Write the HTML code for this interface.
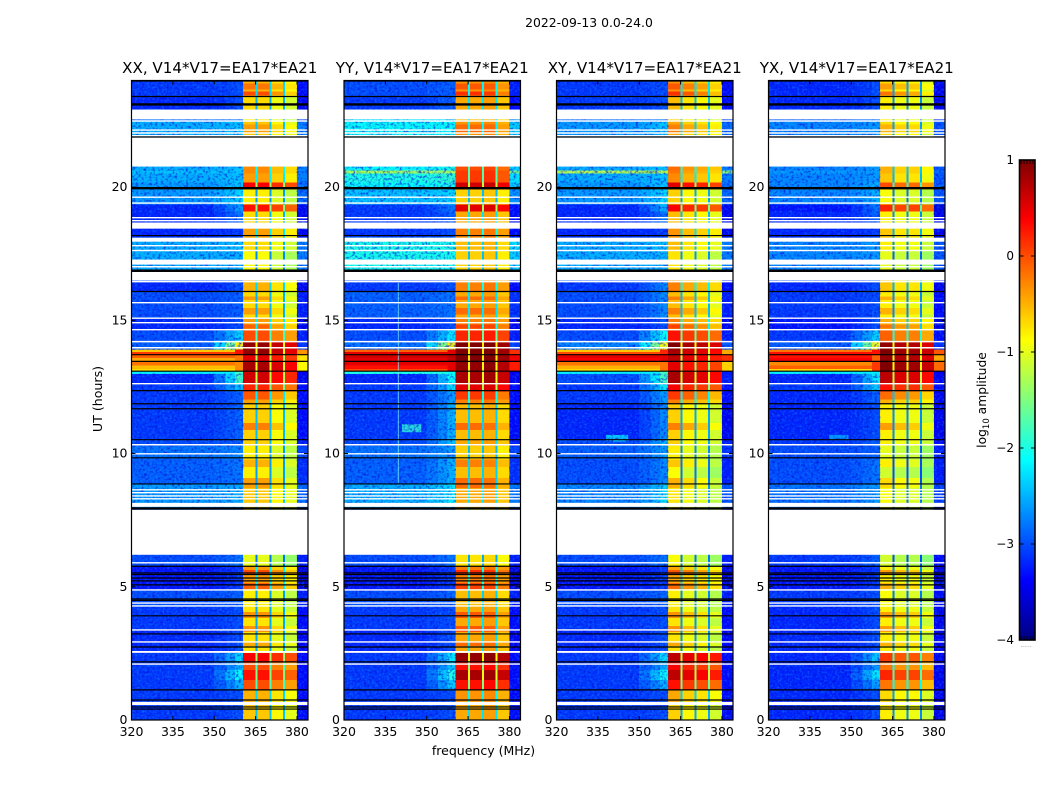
<!DOCTYPE html>
<html><head><meta charset="utf-8"><title>2022-09-13 waterfall</title>
<style>
html,body{margin:0;padding:0;background:#fff}
svg{display:block}
text{font-family:"DejaVu Sans","Liberation Sans",sans-serif;fill:#000}
</style></head>
<body>
<svg id="fig" width="1050" height="800" viewBox="0 0 1050 800" xmlns="http://www.w3.org/2000/svg">
<defs>
<filter id="speckleDark" x="0" y="0" width="100%" height="100%" color-interpolation-filters="sRGB">
<feTurbulence type="fractalNoise" baseFrequency="0.36 0.42" numOctaves="2" seed="4"/>
<feColorMatrix values="0 0 0 0 0  0 0 0 0 0.05  0 0 0 0 0.85  3.2 0 0 0 -1.5"/>
</filter>
<filter id="speckleLight" x="0" y="0" width="100%" height="100%" color-interpolation-filters="sRGB">
<feTurbulence type="fractalNoise" baseFrequency="0.4 0.46" numOctaves="2" seed="11"/>
<feColorMatrix values="0 0 0 0 0.1  0 0 0 0 0.65  0 0 0 0 1  0 3.2 0 0 -1.5"/>
</filter>
</defs>
<text x="589" y="27" font-size="12.4" text-anchor="middle">2022-09-13 0.0-24.0</text>
<text x="483.5" y="755" font-size="12.5" text-anchor="middle">frequency (MHz)</text>
<text x="0" y="0" font-size="12.6" text-anchor="middle" transform="translate(102 399) rotate(-90)">UT (hours)</text>
<text x="0" y="0" font-size="12.3" text-anchor="middle" transform="translate(986 400) rotate(-90)">log<tspan font-size="8.5" dy="3">10</tspan><tspan dy="-3"> amplitude</tspan></text>
<g id="panels"></g>
<g id="cbar"></g>
</svg>
<script>
// ---- chart data (log10 amplitude) ----
const panelTitles = ["XX, V14*V17=EA17*EA21","YY, V14*V17=EA17*EA21","XY, V14*V17=EA17*EA21","YX, V14*V17=EA17*EA21"];
const xTicks = [320,335,350,365,380];
const yTicks = [0,5,10,15,20];
const cbarTicks = [1,0,-1,-2,-3,-4];
const freqEdges = [320,350,354,357.5,360.5,365,365.7,370,370.7,375,375.7,380,384];
const rampWeights = [0.3,0.65,1];

const segTop = [24.00,23.40,22.91,22.50,21.86,20.77,20.62,20.51,20.17,19.91,19.34,
19.08,18.44,18.10,17.58,16.83,16.41,16.08,15.10,14.61,14.20,13.90,
13.71,13.45,13.07,12.62,12.32,11.87,10.52,10.29,9.80,8.86,7.96,
6.20,5.78,4.88,4.24,3.38,2.52,2.18,1.88,1.50,1.13,0.56];
const segBottomEnd = 0;

const bgXX = [-3.1,-3.2,-2.8,-2.5,-2.5,-2.5,-2.4,-2.5,-2.6,-2.6,-3.2,
-3.2,-3.2,-2.5,-2.5,-3.0,-3.2,-3.0,-3.2,-3.0,-2.9,-0.1,
-0.5,-0.6,-3.2,-3.1,-3.1,-3.1,-3.0,-2.8,-2.9,-2.6,-3.0,
-3.0,-3.3,-3.0,-3.1,-3.2,-3.1,-3.1,-3.1,-3.1,-3.1,-3.1];
const rampXX = [-3.0,-3.0,-2.8,-2.4,-2.4,-2.4,-2.4,-2.4,-2.4,-2.3,-2.6,
-2.8,-3.1,-2.4,-2.5,-3.0,-3.0,-2.9,-3.0,-2.3,-0.8,0.3,
-0.2,-0.3,-1.8,-2.4,-2.9,-2.9,-2.9,-2.7,-2.8,-2.5,-3.0,
-2.8,-3.1,-2.9,-3.0,-3.0,-2.3,-2.5,-2.1,-2.5,-3.0,-3.0];
const winXX = [-0.5,-0.7,-0.8,-0.6,-0.6,-0.3,-0.3,-0.4,0.4,-0.8,0.3,
-0.7,-0.4,-0.7,-0.9,-0.5,-0.5,-0.7,-0.4,0.0,0.9,0.9,
0.5,0.8,0.6,0.2,-0.4,-0.65,-0.65,-0.8,-0.8,-0.6,-0.9,
-1.0,-0.4,-0.8,-0.75,-0.75,0.4,0.0,0.3,0.0,-0.5,-0.6];

const bgYY = [-3.0,-3.1,-2.2,-2.1,-2.1,-2.1,-1.3,-2.0,-2.1,-2.4,-3.1,
-3.1,-3.1,-2.0,-2.1,-3.0,-3.1,-2.9,-3.2,-3.0,-2.8,0.4,
0.7,0.5,-3.2,-3.1,-3.1,-3.1,-3.0,-2.8,-2.9,-2.5,-3.0,
-3.0,-3.3,-3.0,-3.1,-3.2,-3.1,-3.1,-3.1,-3.1,-3.1,-3.1];
const rampYY = [-2.9,-2.9,-2.2,-2.1,-2.1,-2.0,-1.3,-1.9,-2.0,-2.3,-2.8,
-2.9,-3.0,-2.0,-2.1,-3.0,-3.0,-2.8,-3.0,-2.2,-0.8,0.5,
0.7,0.5,-2.1,-2.3,-2.6,-2.5,-2.4,-2.6,-2.5,-2.2,-3.0,
-2.8,-3.1,-2.9,-3.0,-3.0,-2.2,-2.4,-2.0,-2.4,-3.0,-3.0];
const winYY = [-0.35,-0.45,-0.55,-0.35,-0.35,0.0,0.1,0.1,0.6,-0.65,0.5,
-0.45,-0.25,-0.55,-0.65,-0.35,-0.25,-0.45,-0.25,0.2,1.0,1.0,
1.0,0.9,0.8,0.5,-0.25,-0.55,-0.45,-0.65,-0.55,-0.45,-0.85,
-0.75,-0.25,-0.55,-0.45,-0.45,0.9,0.3,0.8,0.3,-0.35,-0.45];

const bgXY = [-3.1,-3.1,-2.8,-2.6,-2.6,-2.5,-1.2,-2.5,-2.6,-2.6,-3.2,
-3.2,-3.2,-2.5,-2.5,-3.0,-3.1,-3.0,-3.2,-3.0,-2.7,-0.2,
0.4,-0.4,-3.0,-3.1,-3.1,-3.2,-3.0,-2.9,-3.0,-2.7,-3.0,
-3.0,-3.3,-3.0,-3.1,-3.2,-3.1,-3.1,-3.1,-3.1,-3.1,-3.1];
const rampXY = [-3.0,-3.0,-2.8,-2.4,-2.4,-2.4,-1.2,-2.4,-2.4,-2.3,-2.5,
-2.8,-3.1,-2.4,-2.5,-3.0,-2.7,-2.7,-3.0,-2.1,-0.9,0.2,
0.5,-0.2,-1.8,-2.2,-2.6,-2.7,-2.5,-2.6,-2.7,-2.3,-3.0,
-2.8,-3.1,-2.9,-3.0,-3.0,-2.3,-2.5,-2.1,-2.5,-3.0,-3.0];
const winXY = [-0.45,-0.65,-0.75,-0.55,-0.55,-0.25,-0.3,-0.4,0.4,-0.75,0.3,
-0.65,-0.45,-0.65,-0.85,-0.45,-0.35,-0.65,-0.35,0.2,0.9,0.7,
0.6,0.4,0.7,0.3,-0.35,-0.75,-0.75,-0.9,-1.0,-0.85,-1.0,
-1.0,-0.55,-0.9,-0.85,-0.85,0.6,0.3,0.6,0.2,-0.55,-0.75];

const bgYX = [-3.2,-3.2,-2.9,-2.7,-2.7,-2.7,-2.6,-2.7,-2.7,-2.7,-3.3,
-3.2,-3.2,-2.7,-2.7,-3.0,-3.2,-3.1,-3.3,-3.1,-2.9,0.2,
-0.2,0.1,-3.2,-3.1,-3.2,-3.2,-3.1,-3.0,-3.0,-2.8,-3.0,
-3.1,-3.3,-3.1,-3.2,-3.2,-3.2,-3.2,-3.2,-3.2,-3.2,-3.2];
const rampYX = [-3.0,-3.0,-2.8,-2.6,-2.6,-2.6,-2.6,-2.6,-2.5,-2.5,-2.8,
-2.9,-3.1,-2.6,-2.6,-3.0,-3.0,-3.0,-3.0,-2.3,-0.9,0.3,
-0.1,0.1,-2.2,-2.4,-2.9,-3.0,-2.9,-2.9,-2.8,-2.6,-3.0,
-2.9,-3.1,-3.0,-3.0,-3.0,-2.4,-2.6,-2.2,-2.6,-3.0,-3.0];
const winYX = [-0.8,-0.9,-0.9,-0.8,-0.8,-0.6,-0.6,-0.7,-0.1,-1.0,0.1,
-0.9,-0.7,-0.9,-1.1,-0.7,-0.7,-0.9,-0.6,-0.2,0.8,0.9,
0.8,0.9,0.6,0.2,-0.6,-0.9,-0.9,-1.1,-1.2,-1.0,-1.2,
-1.2,-0.9,-1.0,-0.9,-0.9,0.0,-0.3,0.1,-0.3,-0.8,-0.9];

const sbGainXX = [0.0,0.0,-0.25,-0.4];
const sbGainYY = [0.0,0.0,0.05,-0.15];
const sbGainXY = [0.1,-0.1,-0.2,-0.35];
const sbGainYX = [0.1,-0.05,-0.05,-0.25];

const bandTop = [13.90,13.82,13.69,13.58,13.46,13.31,13.18,13.07];
const bandBottom = [13.82,13.69,13.58,13.46,13.31,13.18,13.07,13.00];
const bandXX = [-0.6,0.1,-0.1,-0.45,-0.2,-0.55,-0.7,-2.2];
const bandYY = [-0.1,0.5,0.6,0.5,0.5,0.3,0.0,-2.0];
const bandXY = [-0.6,0.0,0.5,0.4,-0.2,-0.5,-0.7,-2.2];
const bandYX = [-0.2,0.3,0.3,0.4,-0.3,-0.1,-0.7,-2.2];

const patchTop = [23.89,23.59,22.35,15.89,15.47,14.84,12.32,11.15,9.77,9.09,5.63,5.15,4.06,3.53,2.93];
const patchBottom = [23.66,23.44,22.05,15.77,15.21,14.69,12.02,10.89,9.50,8.71,5.48,4.92,3.83,3.31,2.78];
const patchDelta = [0.3,0.5,0.2,0.3,0.3,0.3,0.35,0.4,0.3,0.4,0.4,0.3,0.4,0.4,0.3];
const patchSbWeight = [1,1,0.8,0.5];

const whiteLines = [22.48,22.14,22.03,21.93,19.62,19.40,18.85,18.74,17.80,17.62,17.01,16.45,15.66,15.08,14.91,14.65,14.20,13.97,12.62,10.33,9.99,8.64,8.53,8.41,8.30,5.90,4.88,4.39,4.28,3.38,2.93,2.10];
const whiteBandTop = [22.91,21.86,18.67,18.10,17.28,16.83,8.15,7.89,2.59,0.68];
const whiteBandBottom = [22.54,20.77,18.44,17.95,17.09,16.49,8.00,6.20,2.52,0.56];
const blackLines = [23.98,23.40,21.88,18.18,16.08,13.71,13.46,13.09,12.36,11.87,11.68,10.52,9.84,8.86,5.77,5.52,5.46,5.33,5.22,5.07,4.54,4.49,3.91,3.23,2.74,2.18,1.13,0.75,0.49,0.41];
const blackThick = [23.10,19.96,16.86,7.94];

const rfiChannelFreqYY = [339.7];
const blobPanel = [1,1,2,3];
const blobFreqStart = [341,320,338,342];
const blobFreqEnd = [348,360,346,349];
const blobHourTop = [11.1,17.6,10.7,10.7];
const blobHourBottom = [10.8,16.9,10.45,10.5];
const blobLevel = [-1.9,-2.0,-2.2,-2.5];

const panelBg = [bgXX,bgYY,bgXY,bgYX];
const panelRamp = [rampXX,rampYY,rampXY,rampYX];
const panelWin = [winXX,winYY,winXY,winYX];
const panelGain = [sbGainXX,sbGainYY,sbGainXY,sbGainYX];
const panelBand = [bandXX,bandYY,bandXY,bandYX];

// ---- layout ----
const NS = "http://www.w3.org/2000/svg";
const panelLeft = [131.5,344,556.5,768.5];
const panelW = 176.5, plotTop = 80.5, plotBottom = 720;
const xMin = 320, xMax = 384, yMax = 24;
function X(f,p){return panelLeft[p]+(f-xMin)/(xMax-xMin)*panelW;}
function Y(h){return plotBottom-h/yMax*(plotBottom-plotTop);}
function jetCh(t,a){return Math.max(0,Math.min(1,1.5-Math.abs(4*t-a)));}
function jet(v){
  const t=Math.max(0,Math.min(1,(v+4)/5));
  return "rgb("+Math.round(255*jetCh(t,3))+","+Math.round(255*jetCh(t,2))+","+Math.round(255*jetCh(t,1))+")";
}
function mk(tag,attrs,parent){
  const e=document.createElementNS(NS,tag);
  for(const k in attrs)e.setAttribute(k,attrs[k]);
  parent.appendChild(e);
  return e;
}
function levelFor(p,s,b){
  const bg=panelBg[p][s],ramp=panelRamp[p][s],win=panelWin[p][s],gain=panelGain[p];
  if(b===0)return bg;
  if(b<=3)return bg+(ramp-bg)*rampWeights[b-1];
  if(b===11)return bg-0.25;
  if(b%2===0)return win+gain[(b-4)/2];
  return win-1.8;
}
function segAt(h){
  let s=0;
  while(s+1<segTop.length&&segTop[s+1]>=h)s++;
  return s;
}
const root=document.getElementById("panels");
panelTitles.forEach(function(title,p){
  const g=mk("g",{},root);
  
  
  const cells=mk("g",{"shape-rendering":"crispEdges"},g);
  
  
  segTop.forEach(function(top,s){
    const bottom=s+1<segTop.length?segTop[s+1]:segBottomEnd;
    for(let b=0;b<freqEdges.length-1;b++){
      const x0=X(freqEdges[b],p),x1=X(freqEdges[b+1],p),y0=Y(top),y1=Y(bottom);
      const r=mk("rect",{x:x0,y:y0,width:x1-x0+0.4,height:y1-y0+0.4,fill:jet(levelFor(p,s,b))},cells);
      
      
    }
  });
  bandTop.forEach(function(t,i){
    const x0=X(320,p),x1=X(357.5,p);
    const r=mk("rect",{x:x0,y:Y(t),width:x1-x0,height:Y(bandBottom[i])-Y(t)+0.3,fill:jet(panelBand[p][i])},cells);
    
    
  });
  patchTop.forEach(function(t,i){
    const s=segAt((t+patchBottom[i])/2);
    patchSbWeight.forEach(function(w,k){
      const b=4+2*k;
      const x0=X(freqEdges[b],p),x1=X(freqEdges[b+1],p);
      const r=mk("rect",{x:x0,y:Y(t),width:x1-x0,height:Y(patchBottom[i])-Y(t),fill:jet(levelFor(p,s,b)+patchDelta[i]*w)},cells);
      
      
    });
  });
  blobPanel.forEach(function(bp,i){
    if(bp!==p)return;
    const x0=X(blobFreqStart[i],p),x1=X(blobFreqEnd[i],p);
    const r=mk("rect",{x:x0,y:Y(blobHourTop[i]),width:x1-x0,height:Y(blobHourBottom[i])-Y(blobHourTop[i]),fill:jet(blobLevel[i]),opacity:0.8},g);
    
    
  });
  // speckle texture on the noise-dominated part of each panel
  [[24,13.9],[13.0,0]].forEach(function(rng){
    [[320,360.5],[380,384]].forEach(function(fr){
      ["speckleDark","speckleLight"].forEach(function(fid){
        const r=mk("rect",{x:X(fr[0],p),y:Y(rng[0]),width:X(fr[1],p)-X(fr[0],p),height:Y(rng[1])-Y(rng[0]),filter:"url(#"+fid+")",opacity:fid==="speckleDark"?0.7:0.35},g);
        
        
      });
    });
  });
  if(p===1){
    rfiChannelFreqYY.forEach(function(f){
      const l=mk("line",{x1:X(f,p),x2:X(f,p),y1:Y(16.4),y2:Y(8.9),stroke:"#7fe8ff","stroke-width":1,opacity:0.75},g);
      
      
    });
  }
  whiteBandTop.forEach(function(t,i){
    const r=mk("rect",{x:X(xMin,p),y:Y(t),width:panelW,height:Y(whiteBandBottom[i])-Y(t),fill:"#fff"},g);
    
    
  });
  whiteLines.forEach(function(h){
    const l=mk("line",{x1:X(xMin,p),x2:X(xMax,p),y1:Y(h),y2:Y(h),stroke:"#fff","stroke-width":1.4},g);
    
    
  });
  blackLines.forEach(function(h){
    const l=mk("line",{x1:X(xMin,p),x2:X(xMax,p),y1:Y(h),y2:Y(h),stroke:"#000","stroke-width":1.2},g);
    
    
  });
  blackThick.forEach(function(h){
    const l=mk("line",{x1:X(xMin,p),x2:X(xMax,p),y1:Y(h),y2:Y(h),stroke:"#000","stroke-width":2.4},g);
    
    
  });
  const frame=mk("rect",{x:panelLeft[p],y:plotTop,width:panelW,height:plotBottom-plotTop,fill:"none",stroke:"#000","stroke-width":1.2},g);
  
  
  const t=mk("text",{x:panelLeft[p]+panelW/2,y:73,"font-size":15.1,"text-anchor":"middle"},g);
  t.textContent=title;
  
  
  xTicks.forEach(function(f){
    const x=X(f,p);
    const a=mk("line",{x1:x,x2:x,y1:plotBottom,y2:plotBottom-4,stroke:"#000","stroke-width":1},g);
    
    
    const c=mk("line",{x1:x,x2:x,y1:plotTop,y2:plotTop+4,stroke:"#000","stroke-width":1},g);
    
    
    const l=mk("text",{x:x,y:736,"font-size":12.5,"text-anchor":"middle"},g);
    l.textContent=String(f);
    
    
  });
  yTicks.forEach(function(h){
    const y=Y(h);
    const a=mk("line",{x1:panelLeft[p],x2:panelLeft[p]+4,y1:y,y2:y,stroke:"#000","stroke-width":1},g);
    
    
    const c=mk("line",{x1:panelLeft[p]+panelW,x2:panelLeft[p]+panelW-4,y1:y,y2:y,stroke:"#000","stroke-width":1},g);
    
    
    const l=mk("text",{x:panelLeft[p]-4,y:y+4,"font-size":12.5,"text-anchor":"end"},g);
    l.textContent=String(h);
    
    
  });
});

// ---- colorbar ----
const cb=document.getElementById("cbar");
const cbL=1019.5,cbR=1035,cbT=160,cbB=640;
function CY(v){return cbB-(v+4)/5*(cbB-cbT);}
for(let i=0;i<240;i++){
  const v=-4+5*(i+0.5)/240;
  const r=mk("rect",{x:cbL,y:CY(v)-1.5,width:cbR-cbL,height:2.6,fill:jet(v)},cb);
  
  
}
const cf=mk("rect",{x:cbL,y:cbT,width:cbR-cbL,height:cbB-cbT,fill:"none",stroke:"#000","stroke-width":1.6},cb);


cbarTicks.forEach(function(v){
  const y=CY(v);
  const a=mk("line",{x1:cbL,x2:cbL+4,y1:y,y2:y,stroke:"#000","stroke-width":1},cb);
  
  
  const c=mk("line",{x1:cbR,x2:cbR-4,y1:y,y2:y,stroke:"#000","stroke-width":1},cb);
  
  
  const l=mk("text",{x:1014,y:y+4,"font-size":12,"text-anchor":"end"},cb);
  l.textContent=(v<0?"\u2212"+(-v):String(v));
  
  
});
[0,1,2,3,4].forEach(function(i){
  const x=cbL+1.5+i*3;
  const a=mk("line",{x1:x,x2:x,y1:cbT,y2:cbT+4,stroke:"#000","stroke-width":0.8},cb);
  
  
  const b=mk("line",{x1:x,x2:x,y1:cbB,y2:cbB-4,stroke:"#000","stroke-width":0.8},cb);
  
  
});
const dots=mk("text",{x:1026,y:647,"font-size":6,"text-anchor":"middle",style:"fill:#888"},cb);
dots.textContent="......";


</script>
</body></html>
